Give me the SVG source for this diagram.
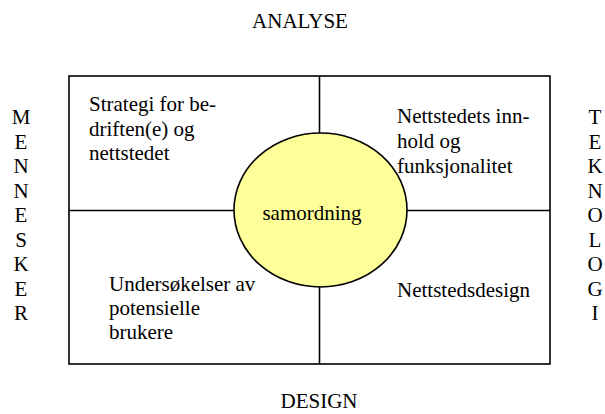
<svg xmlns="http://www.w3.org/2000/svg" width="605" height="414" viewBox="0 0 605 414">
<style>
text{font-family:"Liberation Serif","Times New Roman",Times,"DejaVu Serif",serif;font-size:21px;fill:#000}
.ln{stroke:#000;stroke-width:1.6;fill:none}
.mid{text-anchor:middle}
</style>
<rect width="605" height="414" fill="#fff"/>
<g id="frame">
<rect class="ln" x="69" y="76" width="481" height="288"/>
</g>
<g id="connectors">
<line class="ln" x1="319.5" y1="76" x2="319.5" y2="364"/>
<line class="ln" x1="69" y1="210.5" x2="550" y2="210.5"/>
</g>
<g id="samordning">
<ellipse cx="320.5" cy="210" rx="86.5" ry="77" fill="#FFFF99" stroke="#000" stroke-width="1.6"/>
<text class="mid" x="312" y="220">samordning</text>
</g>
<g id="strategi">
<text x="89" y="111">Strategi for be-</text>
<text x="89" y="136">driften(e) og</text>
<text x="89" y="160">nettstedet</text>
</g>
<g id="innhold">
<text x="397" y="123">Nettstedets inn-</text>
<text x="397" y="148">hold og</text>
<text x="397" y="173">funksjonalitet</text>
</g>
<g id="undersokelser">
<text x="109" y="291">Undersøkelser av</text>
<text x="109" y="315">potensielle</text>
<text x="109" y="339">brukere</text>
</g>
<g id="design">
<text x="397" y="297">Nettstedsdesign</text>
</g>
<g id="axes">
<text class="mid" x="300" y="28">ANALYSE</text>
<text class="mid" x="319" y="408">DESIGN</text>
<g>
<text class="mid" x="21" y="124">M</text>
<text class="mid" x="21" y="148.5">E</text>
<text class="mid" x="21" y="173">N</text>
<text class="mid" x="21" y="197.5">N</text>
<text class="mid" x="21" y="222">E</text>
<text class="mid" x="21" y="246.5">S</text>
<text class="mid" x="21" y="271">K</text>
<text class="mid" x="21" y="295.5">E</text>
<text class="mid" x="21" y="320">R</text>
</g>
<g>
<text class="mid" x="595" y="124">T</text>
<text class="mid" x="595" y="148.5">E</text>
<text class="mid" x="595" y="173">K</text>
<text class="mid" x="595" y="197.5">N</text>
<text class="mid" x="595" y="222">O</text>
<text class="mid" x="595" y="246.5">L</text>
<text class="mid" x="595" y="271">O</text>
<text class="mid" x="595" y="295.5">G</text>
<text class="mid" x="595" y="320">I</text>
</g>
</g>
</svg>
